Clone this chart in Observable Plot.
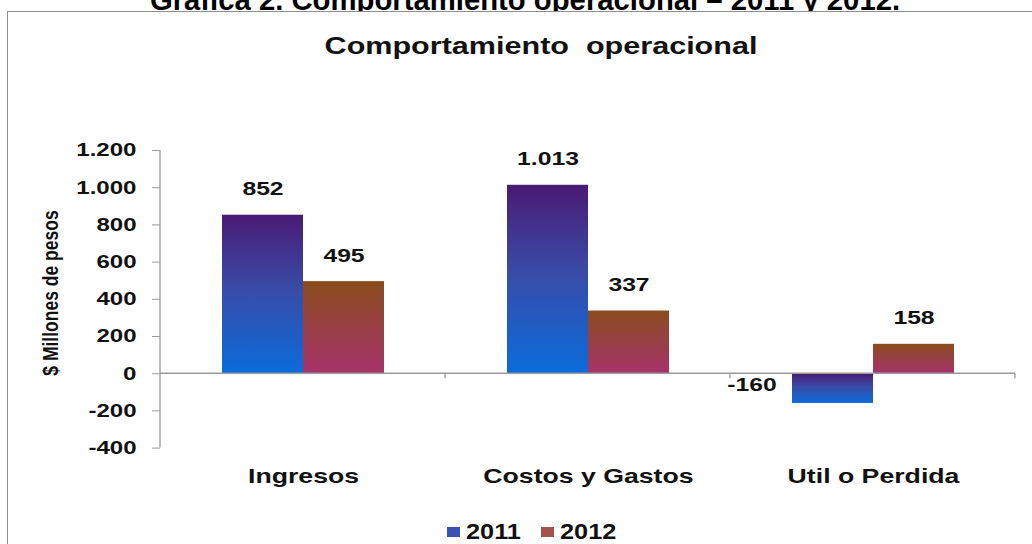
<!DOCTYPE html>
<html>
<head>
<meta charset="utf-8">
<script src="https://cdn.jsdelivr.net/npm/d3@7"></script>
<script src="https://cdn.jsdelivr.net/npm/@observablehq/plot@0.6"></script>
<style>
  body { margin: 0; background: #fff; font-family: "Liberation Sans", Arial, sans-serif; }
  #page { position: relative; width: 1032px; height: 544px; overflow: hidden; background: #fff; }
  #pagetitle { position: absolute; left: 0; top: 0; width: 1032px; height: 12px; overflow: hidden; }
  #pagetitle span { position: absolute; left: 0; width: 1050px; top: -15px; text-align: center; white-space: nowrap;
    font-weight: bold; font-size: 30px; line-height: 30px; color: #000; transform-origin: 525px 0; }
  #frame { position: absolute; left: 7px; top: 11px; width: 1100px; height: 600px;
    border-top: 1.5px solid #8e8e8e; border-left: 1.5px solid #8e8e8e; background: #fff; }
  #charttitle { position: absolute; left: 41px; width: 1000px; top: 35px; text-align: center; white-space: nowrap;
    font-weight: bold; font-size: 23.5px; line-height: 23.5px; color: #111; transform: scaleX(1.3); transform-origin: 500px 0; }
  #chart { position: absolute; left: 0; top: 75px; }
  #ylabel { position: absolute; left: 50px; top: 293px; white-space: nowrap; font-weight: bold; font-size: 17.5px;
    line-height: 20px; color: #111; transform: translate(-50%, -50%) rotate(-90deg) scaleY(1.3); }
  #legend { position: absolute; left: 447px; top: 520px; height: 24px; white-space: nowrap; font-weight: bold;
    font-size: 22px; line-height: 24px; color: #111; }
  #legend .sw { display: inline-block; width: 13px; height: 10px; vertical-align: middle; margin-top: -3px; }
  #legend .lab { display: inline-block; width: 75px; transform: scaleX(1.15); transform-origin: 0 50%; margin-left: 6px; }
</style>
</head>
<body>
<div id="page">
  <div id="pagetitle"><span>Gráfica 2. Comportamiento operacional – 2011 y 2012.</span></div>
  <div id="frame"></div>
  <div id="charttitle">Comportamiento&nbsp; operacional</div>
  <div id="chart"></div>
  <div id="ylabel"></div>
  <div id="legend"></div>
</div>
<script>
// ---- data ----
const categories = ["Ingresos", "Costos y Gastos", "Util o Perdida"];
const years = ["2011", "2012"];
const values2011 = [852, 1013, -160];
const values2012 = [495, 337, 158];
const yTicks = [-400, -200, 0, 200, 400, 600, 800, 1000, 1200];
const yLabel = "$ Millones de pesos";
const legendColors = ["#3a52b0", "#a4524c"];

const data = categories.flatMap((c, i) => [
  {cat: c, year: years[0], value: values2011[i]},
  {cat: c, year: years[1], value: values2012[i]}
]);

const fmt = d3.formatLocale({decimal: ",", thousands: ".", grouping: [3], currency: ["$", ""], minus: "-"}).format(",d");
const font = '"Liberation Sans", Arial, sans-serif';
const STRETCH = 1.3;
const W = 1032, H = 420, ML = 160, MR = 17, MT = 75, MB = 47.4;

function makePlot(axisShift) {
  return Plot.plot({
    width: W,
    height: H,
    marginLeft: ML,
    marginRight: MR,
    marginTop: MT,
    marginBottom: MB,
    style: {fontFamily: font, fontWeight: "bold", fontSize: "18.5px", color: "#111", background: "transparent", overflow: "visible"},
    fx: {domain: categories, paddingInner: 0.432, paddingOuter: 0.216, label: null},
    x: {domain: years, padding: 0, axis: null},
    y: {domain: d3.extent(yTicks), label: null},
    marks: [
      // the y axis sits on the first facet; shift it back to the plot's left edge
      Plot.axisY({ticks: yTicks, tickSize: 8, tickPadding: 16, tickFormat: fmt, stroke: "#999", label: null,
        fontSize: 18.5, dx: -axisShift}),
      Plot.axisFx({anchor: "bottom", tickSize: 0, tickPadding: 20, fontSize: 20.5, label: null}),
      Plot.barY(data.filter(d => d.year === years[0]), {fx: "cat", x: "year", y: "value", fill: "url(#g2011)"}),
      Plot.barY(data.filter(d => d.year === years[1]), {fx: "cat", x: "year", y: "value", fill: "url(#g2012)"}),
      Plot.text(data.filter(d => d.value >= 0), {fx: "cat", x: "year", y: "value", text: d => fmt(d.value),
        dy: -26, lineAnchor: "middle", fontSize: 19, fontWeight: "bold", fill: "#111"}),
      Plot.text(data.filter(d => d.value < 0), {fx: "cat", x: "year", y: () => 0, text: d => fmt(d.value),
        dy: 11, dx: -81, lineAnchor: "middle", fontSize: 19, fontWeight: "bold", fill: "#111"})
    ]
  });
}

const probe = makePlot(0);
const axisShift = probe.scale("fx").apply(categories[0]) - ML;
const plot = makePlot(axisShift);

const ns = "http://www.w3.org/2000/svg";
// gradients for bars
const defs = document.createElementNS(ns, "defs");
defs.innerHTML = `
  <linearGradient id="g2011" x1="0" y1="0" x2="0" y2="1">
    <stop offset="0" stop-color="#4a1a74"/>
    <stop offset="0.45" stop-color="#3a4aa6"/>
    <stop offset="1" stop-color="#0b6cdc"/>
  </linearGradient>
  <linearGradient id="g2012" x1="0" y1="0" x2="0" y2="1">
    <stop offset="0" stop-color="#8a4c1c"/>
    <stop offset="0.5" stop-color="#983f45"/>
    <stop offset="1" stop-color="#a6336a"/>
  </linearGradient>`;
plot.insertBefore(defs, plot.firstChild);

// axis line, zero line and category-boundary ticks, placed with the plot's own y scale
const yScale = plot.scale("y");
const deco = document.createElementNS(ns, "g");
deco.setAttribute("aria-label", "axis lines");
const line = (xa, ya, xb, yb, w) => {
  const l = document.createElementNS(ns, "line");
  l.setAttribute("x1", xa); l.setAttribute("y1", ya);
  l.setAttribute("x2", xb); l.setAttribute("y2", yb);
  l.setAttribute("stroke", "#9a9a9a"); l.setAttribute("stroke-width", w);
  deco.appendChild(l);
};
const [lo, hi] = d3.extent(yTicks);
const y0 = yScale.apply(0);
line(ML, yScale.apply(hi), ML, yScale.apply(lo), 1.3);
line(ML, y0, W - MR, y0, 1.5);
const step = (W - ML - MR) / categories.length;
for (let k = 1; k <= categories.length; ++k) line(ML + k * step, y0, ML + k * step, y0 + 5, 1.3);
plot.appendChild(deco);

document.getElementById("chart").appendChild(plot);

// horizontal stretch of text, as in the reference picture, keeping each text's anchor point
plot.querySelectorAll("text").forEach(t => {
  const w = t.getComputedTextLength();
  if (!(w > 0)) return;
  const anchor = getComputedStyle(t).textAnchor;
  const sw = w * STRETCH;
  t.style.textAnchor = "start";
  t.setAttribute("textLength", sw.toFixed(1));
  t.setAttribute("lengthAdjust", "spacingAndGlyphs");
  const shift = anchor === "end" ? -sw : anchor === "middle" ? -sw / 2 : 0;
  if (shift !== 0) {
    const tr = t.getAttribute("transform") || "";
    t.setAttribute("transform", `${tr} translate(${shift.toFixed(1)},0)`.trim());
  }
});

// y label
document.getElementById("ylabel").textContent = yLabel;

// page title fitted to its width
const pt = document.querySelector("#pagetitle span");
const r = document.createRange(); r.selectNodeContents(pt);
const natural = r.getBoundingClientRect().width;
pt.style.transform = `scaleX(${(750 / natural).toFixed(3)})`;

// legend
const legend = document.getElementById("legend");
years.forEach((y, i) => {
  const sw = document.createElement("span");
  sw.className = "sw"; sw.style.background = legendColors[i];
  const lab = document.createElement("span");
  lab.className = "lab"; lab.textContent = y;
  if (i > 0) lab.style.width = "auto";
  legend.appendChild(sw); legend.appendChild(lab);
});
</script>
</body>
</html>
